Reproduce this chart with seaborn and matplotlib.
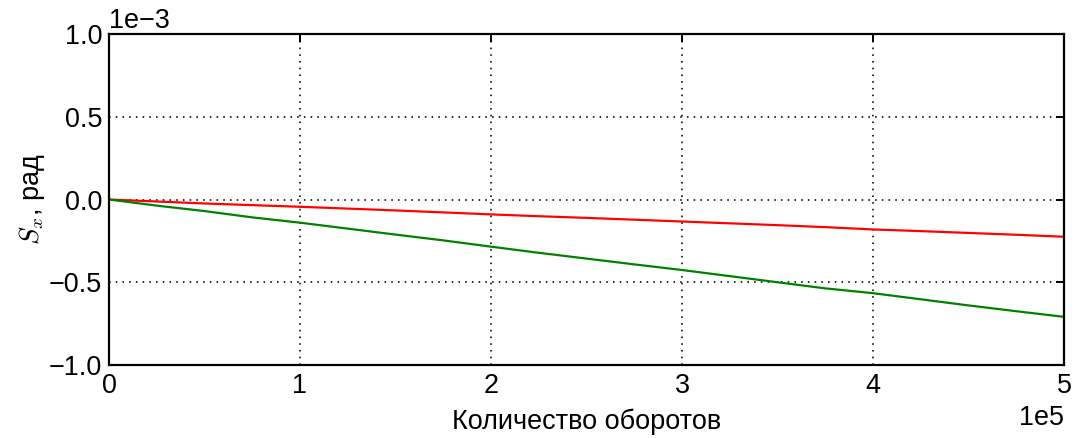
import numpy as np
import pandas as pd
import matplotlib
matplotlib.use("Agg")
import matplotlib.pyplot as plt
import seaborn as sns

# Data (x in revolutions, y in radians)
revolutions = [0.0, 0.25, 0.5, 0.75, 1.0, 1.25, 1.5, 1.75, 2.0, 2.25, 2.5,
               2.75, 3.0, 3.25, 3.5, 3.75, 4.0, 4.25, 4.5, 4.75, 5.0]  # x1e5
sx_red = [0.0, -0.012, -0.024, -0.034, -0.044, -0.055, -0.066, -0.078, -0.090,
          -0.101, -0.111, -0.122, -0.133, -0.144, -0.155, -0.167, -0.181,
          -0.191, -0.202, -0.213, -0.225]  # x1e-3
sx_green = [0.0, -0.037, -0.070, -0.108, -0.140, -0.176, -0.212, -0.247, -0.285,
            -0.322, -0.357, -0.392, -0.426, -0.463, -0.500, -0.537, -0.566,
            -0.603, -0.640, -0.675, -0.709]  # x1e-3

x_vals = np.array(revolutions) * 1e5
df = pd.DataFrame({
    "x": np.concatenate([x_vals, x_vals]),
    "y": np.concatenate([np.array(sx_red) * 1e-3, np.array(sx_green) * 1e-3]),
    "series": ["red"] * len(x_vals) + ["green"] * len(x_vals),
})

sns.set_style("white")
plt.rcParams['font.family'] = ['Liberation Sans', 'DejaVu Sans']
plt.rcParams['mathtext.fontset'] = 'cm'
plt.rcParams['axes.unicode_minus'] = True
plt.rcParams['text.color'] = 'k'
plt.rcParams['axes.labelcolor'] = 'k'
plt.rcParams['xtick.color'] = 'k'
plt.rcParams['ytick.color'] = 'k'

FS = 13.5
fig = plt.figure(figsize=(7.5, 438 / 144), dpi=144)
ax = fig.add_axes([109 / 1080, 1 - 365 / 438, (1064 - 109) / 1080, (365 - 34) / 438])

sns.lineplot(data=df, x="x", y="y", hue="series",
             palette={"red": "#ff0000", "green": "#008000"},
             linewidth=1.1, legend=False, ax=ax, estimator=None, sort=False)

ax.set_xlim(0, 5e5)
ax.set_ylim(-1e-3, 1e-3)
ax.set_xticks(np.arange(0, 5.01e5, 1e5))
ax.set_yticks(np.arange(-1e-3, 1.01e-3, 0.5e-3))
ax.ticklabel_format(style='sci', axis='both', scilimits=(0, 0))

ax.grid(True, color='k', linestyle=(0, (1, 3.2)), linewidth=0.8)
for s in ax.spines.values():
    s.set_visible(True)
    s.set_color('k')
    s.set_linewidth(1.1)
ax.tick_params(direction='in', length=4, width=1, colors='k', labelcolor='k',
               labelsize=FS, top=True, right=True)
ax.tick_params(axis='x', pad=4)
ax.tick_params(axis='y', pad=3.5)
ax.xaxis.get_offset_text().set_fontsize(FS)
ax.yaxis.get_offset_text().set_fontsize(FS)
ax.xaxis.get_offset_text().set_color('k')
ax.yaxis.get_offset_text().set_color('k')

ax.set_xlabel("Количество оборотов", fontsize=FS, labelpad=5, color='k')
ax.set_ylabel("$S_x$, рад", fontsize=FS, labelpad=1, color='k')

fig.savefig("out.png", dpi=144)
